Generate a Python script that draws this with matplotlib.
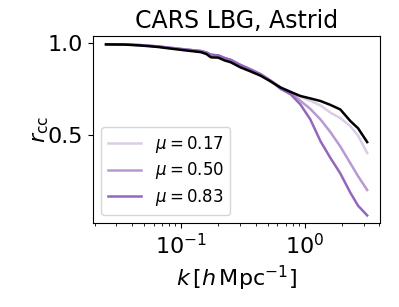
import numpy as np
import matplotlib
matplotlib.use("Agg")
from matplotlib import pyplot as plt

# wavenumbers k [h/Mpc]
k_vals = [0.0247, 0.035, 0.0473, 0.065, 0.0826, 0.11, 0.144, 0.16, 0.174, 0.2,
          0.225, 0.252, 0.303, 0.36, 0.44, 0.53, 0.637, 0.77, 0.923, 1.11,
          1.34, 1.61, 1.94, 2.34, 2.7, 3.2]

r_real = [0.99, 0.989, 0.984, 0.976, 0.967, 0.957, 0.948, 0.938, 0.92, 0.918,
          0.903, 0.893, 0.865, 0.845, 0.82, 0.789, 0.756, 0.732, 0.71, 0.697,
          0.683, 0.662, 0.637, 0.574, 0.535, 0.46]

mu_labels = [r"$\mu = 0.17$", r"$\mu = 0.50$", r"$\mu = 0.83$"]
mu_alphas = [1 / 3, 2 / 3, 1.0]

r_mu017 = [0.99, 0.99, 0.986, 0.979, 0.971, 0.962, 0.954, 0.946, 0.934, 0.93,
           0.916, 0.906, 0.878, 0.856, 0.828, 0.794, 0.758, 0.732, 0.706, 0.684,
           0.659, 0.62, 0.59, 0.546, 0.495, 0.4]
r_mu050 = [0.99, 0.99, 0.986, 0.979, 0.971, 0.962, 0.954, 0.946, 0.934, 0.93,
           0.916, 0.906, 0.878, 0.856, 0.828, 0.794, 0.756, 0.729, 0.684, 0.64,
           0.583, 0.515, 0.436, 0.345, 0.275, 0.2]
r_mu083 = [0.99, 0.99, 0.986, 0.979, 0.971, 0.962, 0.954, 0.946, 0.934, 0.93,
           0.916, 0.906, 0.878, 0.856, 0.828, 0.792, 0.749, 0.719, 0.664, 0.583,
           0.465, 0.375, 0.29, 0.185, 0.115, 0.062]

fig, ax = plt.subplots(figsize=(3.99, 3.07), dpi=100)
fig.subplots_adjust(left=0.233, right=0.953, top=0.883, bottom=0.273)

for r_mu, label, alpha in zip([r_mu017, r_mu050, r_mu083], mu_labels, mu_alphas):
    ax.plot(k_vals, r_mu, color="tab:purple", alpha=alpha, lw=1.8, label=label)
ax.plot(k_vals, r_real, color="black", lw=1.8)

ax.set_xscale("log")
ax.set_ylim(0.02, 1.036)
ax.set_yticks([0.5, 1.0])
ax.tick_params(labelsize=16)
ax.set_title("CARS LBG, Astrid", fontsize=17)
ax.set_xlabel(r"$k\,[h\,\mathrm{Mpc}^{-1}]$", fontsize=16)
ax.set_ylabel(r"$r_{\rm cc}$", fontsize=16, labelpad=-2)
ax.legend(loc="lower left", fontsize=12, labelspacing=0.35)

fig.savefig("out.png", dpi=100)
